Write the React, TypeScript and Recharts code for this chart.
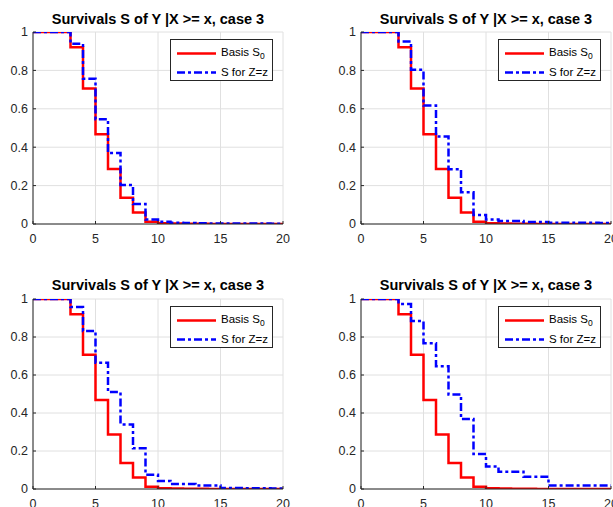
import React from "react";
import { LineChart, Line, XAxis, YAxis, CartesianGrid } from "recharts";

const xValues = [0, 1, 2, 3, 4, 5, 6, 7, 8, 9, 10, 11, 12, 13, 14, 15, 16, 17, 18, 19, 20];
const xTicks = [0, 5, 10, 15, 20];
const yTicks = [0, 0.2, 0.4, 0.6, 0.8, 1];

// Basis survival S0, same in all four panels
const basisS0 = [1, 1, 1, 0.92, 0.706, 0.468, 0.287, 0.137, 0.06, 0.012, 0.004, 0.002, 0.001, 0.001, 0, 0, 0, 0, 0, 0, 0];

// S for Z=z, one per panel
const sPanel1 = [1, 1, 1, 0.939, 0.757, 0.546, 0.37, 0.203, 0.104, 0.023, 0.012, 0.007, 0.005, 0.004, 0.003, 0.003, 0.002, 0.002, 0.002, 0.001, 0.001];
const sPanel2 = [1, 1, 1, 0.951, 0.803, 0.617, 0.456, 0.285, 0.165, 0.047, 0.024, 0.016, 0.016, 0.01, 0.01, 0.007, 0.007, 0.006, 0.006, 0.005, 0.005];
const sPanel3 = [1, 1, 1, 0.958, 0.832, 0.664, 0.51, 0.34, 0.214, 0.075, 0.042, 0.026, 0.026, 0.018, 0.018, 0.005, 0.005, 0.004, 0.004, 0.003, 0.003];
const sPanel4 = [1, 1, 1, 0.974, 0.884, 0.767, 0.646, 0.497, 0.368, 0.184, 0.119, 0.091, 0.091, 0.065, 0.065, 0.019, 0.019, 0.019, 0.019, 0.019, 0.019];

const TITLE = "Survivals S of Y |X >= x, case 3";
const FONT = "'Liberation Sans', Arial, Helvetica, sans-serif";
const AXIS = "#262626";
const BLUE_DASH = "8 3 3 3";
const TICK_FONT = 12.5;

function LegendBox() {
  return (
    <div
      style={{
        position: "absolute",
        left: 170,
        top: 39,
        width: 101,
        height: 40,
        border: `1px solid ${AXIS}`,
        background: "#fff",
        fontFamily: FONT,
        fontSize: 11.5,
        color: "#000",
      }}>
      <svg width={46} height={40} style={{ position: "absolute", left: 0, top: 0 }}>
        <line x1={6} x2={45} y1={13.5} y2={13.5} stroke="#ff0000" strokeWidth={2.5} />
        <line x1={6} x2={45} y1={32.5} y2={32.5} stroke="#0000ff" strokeWidth={2.5} strokeDasharray={BLUE_DASH} />
      </svg>
      <div style={{ position: "absolute", left: 50, top: 5, whiteSpace: "nowrap", lineHeight: "14px" }}>
        Basis S<span style={{ fontSize: 8.5, position: "relative", top: 3 }}>0</span>
      </div>
      <div style={{ position: "absolute", left: 50, top: 25, whiteSpace: "nowrap", lineHeight: "14px" }}>
        S for Z=z
      </div>
    </div>
  );
}

function Panel({
  values,
  left,
  top,
  plotH,
  titleTop,
}: {
  values: number[];
  left: number;
  top: number;
  plotH: number;
  titleTop: number;
}) {
  const data = xValues.map((x, i) => ({ x, basis: basisS0[i], s: values[i] }));
  const marginTop = 32;
  const xAxisH = 30;
  const height = marginTop + plotH + xAxisH + 6;
  return (
    <div style={{ position: "absolute", left, top, width: 300, height }}>
      <LineChart width={300} height={height} data={data} margin={{ top: marginTop, right: 17, bottom: 6, left: 5 }}>
        <CartesianGrid stroke="#e0e0e0" strokeWidth={1} />
        <XAxis
          dataKey="x"
          type="number"
          domain={[0, 20]}
          ticks={xTicks}
          height={xAxisH}
          stroke={AXIS}
          tickSize={-3}
          tickMargin={13.5}
          tick={{ fill: AXIS, fontSize: TICK_FONT, fontFamily: FONT }}
          allowDataOverflow
        />
        <YAxis
          type="number"
          domain={[0, 1]}
          ticks={yTicks}
          width={28}
          stroke={AXIS}
          tickSize={-3}
          tickMargin={8}
          tick={{ fill: AXIS, fontSize: TICK_FONT, fontFamily: FONT }}
          allowDataOverflow
        />
        <Line
          type="stepAfter"
          dataKey="basis"
          stroke="#ff0000"
          strokeWidth={2.5}
          dot={false}
          isAnimationActive={false}
        />
        <Line
          type="stepAfter"
          dataKey="s"
          stroke="#0000ff"
          strokeWidth={2.5}
          strokeDasharray={BLUE_DASH}
          dot={false}
          isAnimationActive={false}
        />
      </LineChart>
      <div
        style={{
          position: "absolute",
          left: 8,
          width: 300,
          top: titleTop,
          textAlign: "center",
          fontFamily: FONT,
          fontWeight: "bold",
          fontSize: 14.5,
          color: "#000",
          whiteSpace: "nowrap",
        }}>
        {TITLE}
      </div>
      <LegendBox />
    </div>
  );
}

export default function App() {
  return (
    <div
      style={{
        position: "absolute",
        left: 0,
        top: 0,
        width: 613,
        height: 507,
        overflow: "hidden",
        background: "#fff",
      }}>
      <Panel values={sPanel1} left={0} top={0} plotH={192} titleTop={11} />
      <Panel values={sPanel2} left={328} top={0} plotH={192} titleTop={11} />
      <Panel values={sPanel3} left={0} top={267} plotH={190} titleTop={10} />
      <Panel values={sPanel4} left={328} top={267} plotH={190} titleTop={10} />
    </div>
  );
}
